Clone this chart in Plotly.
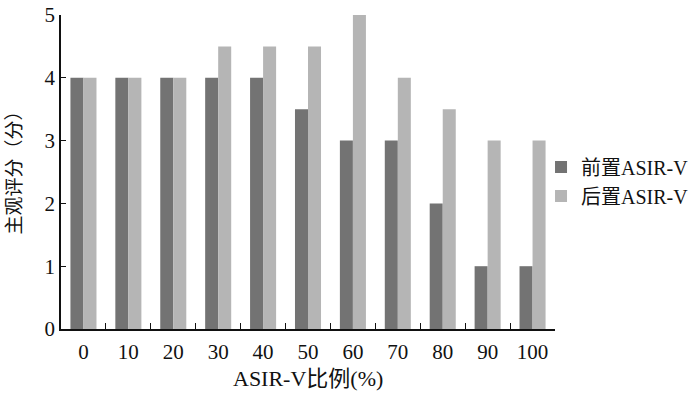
import plotly.graph_objects as go

categories = ["0", "10", "20", "30", "40", "50", "60", "70", "80", "90", "100"]
pre_vals = [4, 4, 4, 4, 4, 3.5, 3, 3, 2, 1, 1]
post_vals = [4, 4, 4, 4.5, 4.5, 4.5, 5, 4, 3.5, 3, 3]
series_names = ["前置ASIR-V", "后置ASIR-V"]
y_ticks = [0, 1, 2, 3, 4, 5]
x_title = "ASIR-V比例(%)"
y_title = "主观评分（分）"

font_family = "Liberation Serif, Noto Sans CJK SC, serif"
ink = "#111111"

fig = go.Figure()
fig.add_trace(go.Bar(x=categories, y=pre_vals, name=series_names[0],
                     marker=dict(color="#737373", line=dict(width=0))))
fig.add_trace(go.Bar(x=categories, y=post_vals, name=series_names[1],
                     marker=dict(color="#b5b5b5", line=dict(width=0))))

fig.update_layout(
    template="none",
    width=700, height=398,
    margin=dict(l=61, r=145, t=15, b=69, autoexpand=False),
    paper_bgcolor="white", plot_bgcolor="white",
    barmode="group", bargap=0.42, bargroupgap=0,
    font=dict(family=font_family, size=21, color=ink),
    showlegend=True,
    legend=dict(x=0.9717, y=0.47, xanchor="left", yanchor="middle",
                font=dict(size=20, family=font_family, color=ink),
                bgcolor="rgba(0,0,0,0)", itemwidth=30, tracegroupgap=0),
    annotations=[
        dict(text=x_title, xref="paper", yref="paper", x=0.5, y=-0.158,
             xanchor="center", yanchor="middle", showarrow=False,
             font=dict(size=22, color=ink, family=font_family)),
        dict(text=y_title, xref="paper", yref="paper", x=-46 / 494, y=0.511,
             xanchor="center", yanchor="middle", showarrow=False, textangle=-90,
             font=dict(size=19, color=ink, family=font_family)),
    ],
)
fig.update_xaxes(
    type="category", showline=True, linecolor=ink, linewidth=1.5,
    ticks="inside", tickson="boundaries", ticklen=6, tickcolor=ink,
    tickfont=dict(size=21, color=ink), showgrid=False, automargin=False,
    ticklabelstandoff=3,
)
fig.update_yaxes(
    range=[0, 5], tickvals=y_ticks, showline=True, linecolor=ink, linewidth=1.5,
    ticks="inside", ticklen=5, tickcolor=ink, showgrid=False, zeroline=False,
    tickfont=dict(size=21, color=ink), automargin=False, ticklabeloverflow="allow",
)
fig.write_html("out.html", config={"displayModeBar": False},
               post_script="document.body.style.margin='0';")
